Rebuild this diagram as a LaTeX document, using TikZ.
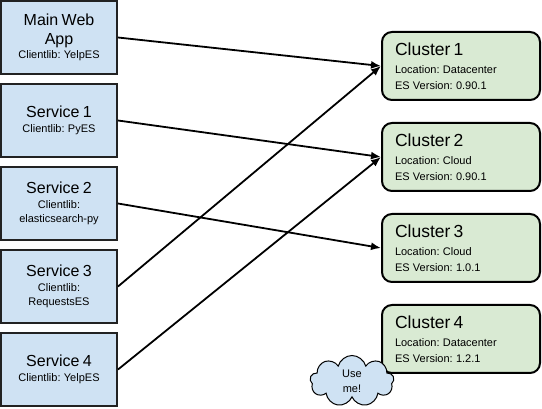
\documentclass[tikz,border=0pt]{standalone}
\usepackage{fontspec}
\setmainfont{Liberation Sans}
\frenchspacing
\usepackage{tikz}
\usetikzlibrary{arrows,arrows.meta,shapes,positioning}
\definecolor{service blue}{HTML}{CFE2F3}
\definecolor{cluster green}{HTML}{D9EAD3}
\definecolor{box line}{HTML}{222222}
\tikzstyle{service box}=[draw=box line, line width=2pt, fill=service blue,
  minimum width=116pt, minimum height=73pt, text width=110pt, inner sep=3pt, align=center]
\tikzstyle{cluster box}=[draw=black, line width=2pt, fill=cluster green, rounded corners=10pt,
  minimum width=158pt, minimum height=68pt, text width=132pt, inner xsep=13pt, align=left]
\tikzstyle{use cloud}=[cloud, cloud puffs=9, aspect=1.6, draw=black, line width=1pt,
  fill=service blue, minimum width=84pt, minimum height=51pt, inner sep=0pt, align=center,
  font=\fontsize{11}{15}\selectfont]
\tikzstyle{link}=[->, line width=1.8pt]
\newcommand{\svctext}[2]{{\fontsize{16}{19}\selectfont #1\par}{\fontsize{11}{14.5}\selectfont #2\par}}
\newcommand{\clutext}[3]{{\fontsize{17.5}{20}\selectfont #1\par}\vspace{2pt}{\fontsize{11}{16}\selectfont #2\\#3\par}}
\begin{document}
\begin{tikzpicture}[>={Latex[length=10pt,width=8pt]}, x=1pt, y=-1pt]
    \useasboundingbox (0,0) rectangle (542,409);

    % Services
    \draw (59,37.5) node[service box] (web) {\svctext{Main Web\\App}{Clientlib: YelpES}};
    \draw (59,120.5) node[service box] (svc1) {\svctext{Service 1}{Clientlib: PyES}};
    \draw (59,203.5) node[service box] (svc2) {\svctext{Service 2}{Clientlib:\\elasticsearch-py}};
    \draw (59,286.5) node[service box] (svc3) {\svctext{Service 3}{Clientlib:\\RequestsES}};
    \draw (59,369.5) node[service box] (svc4) {\svctext{Service 4}{Clientlib: YelpES}};

    % Clusters
    \draw (461,66) node[cluster box] (c1) {\clutext{Cluster 1}{Location: Datacenter}{ES Version: 0.90.1}};
    \draw (461,157) node[cluster box] (c2) {\clutext{Cluster 2}{Location: Cloud}{ES Version: 0.90.1}};
    \draw (461,248) node[cluster box] (c3) {\clutext{Cluster 3}{Location: Cloud}{ES Version: 1.0.1}};
    \draw (461,339) node[cluster box] (c4) {\clutext{Cluster 4}{Location: Datacenter}{ES Version: 1.2.1}};

    % Note
    \draw (352,381) node[use cloud] (note) {Use\\me!};

    % Connections
    \draw[link] (web.east) -- (c1.west);
    \draw[link] (svc1.east) -- (c2.west);
    \draw[link] (svc2.east) -- (c3.west);
    \draw[link] (svc3.east) -- (c1.west);
    \draw[link] (svc4.east) -- (c2.west);

\end{tikzpicture}
\end{document}
